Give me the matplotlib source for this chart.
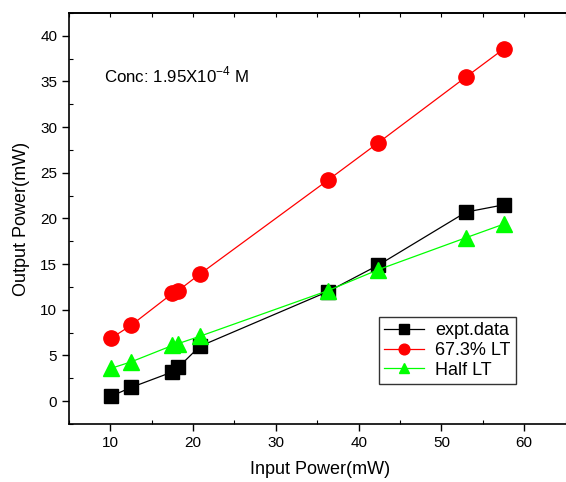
import matplotlib
matplotlib.use("Agg")
import matplotlib.pyplot as plt
from matplotlib.ticker import MultipleLocator

plt.rcParams["font.family"] = ["Liberation Sans", "DejaVu Sans"]

input_power = [10.1, 12.5, 17.5, 18.2, 20.8, 36.3, 42.4, 53.0, 57.6]
expt_data = [0.55, 1.5, 3.2, 3.7, 6.0, 12.0, 14.9, 20.7, 21.5]
lt_673 = [6.9, 8.3, 11.8, 12.1, 13.9, 24.2, 28.3, 35.5, 38.6]
half_lt = [3.6, 4.3, 6.1, 6.3, 7.1, 12.1, 14.4, 17.9, 19.4]

fig = plt.figure(figsize=(5.66, 4.82), dpi=100)
# right spine sits just past the image edge, as in the reference
ax = fig.add_axes([0.1219, 0.1203, 0.886, 0.853])

ax.plot(input_power, expt_data, "-s", color="black", lw=0.9, ms=9.5,
        label="expt.data")
ax.plot(input_power, lt_673, "-o", color="red", lw=0.9, ms=11,
        label="67.3% LT")
ax.plot(input_power, half_lt, "-^", color="#00ff00", lw=0.9, ms=11,
        label="Half LT")

ax.set_xlim(5, 65.6)
ax.set_ylim(-2.5, 42.5)
ax.xaxis.set_major_locator(MultipleLocator(10))
ax.xaxis.set_minor_locator(MultipleLocator(5))
ax.yaxis.set_major_locator(MultipleLocator(5))
ax.yaxis.set_minor_locator(MultipleLocator(2.5))
ax.tick_params(which="major", direction="out", length=5, width=1,
               labelsize=11)
ax.tick_params(which="minor", direction="in", length=3, width=0.8)
for s in ax.spines.values():
    s.set_linewidth(1.2)

# top axis: inward ticks only
top = ax.secondary_xaxis("top")
top.xaxis.set_major_locator(MultipleLocator(10))
top.xaxis.set_minor_locator(MultipleLocator(5))
top.tick_params(which="both", direction="in", length=3, width=0.8,
                labeltop=False)
top.spines["top"].set_linewidth(1.2)

ax.set_xlabel("Input Power(mW)", fontsize=13, labelpad=8)
ax.set_ylabel("Output Power(mW)", fontsize=13, labelpad=7)

ax.text(0.07, 0.83, r"Conc: 1.95X10$^{\mathregular{-4}}$ M",
        transform=ax.transAxes, fontsize=12.2)

leg = ax.legend(loc="lower left", bbox_to_anchor=(0.6, 0.075),
                fontsize=13, frameon=True, fancybox=False,
                edgecolor="black", handlelength=2.2, borderpad=0.3,
                labelspacing=0.15, markerscale=0.7, handletextpad=0.6)
leg.get_frame().set_linewidth(1.0)

fig.savefig("out.png", dpi=100)
